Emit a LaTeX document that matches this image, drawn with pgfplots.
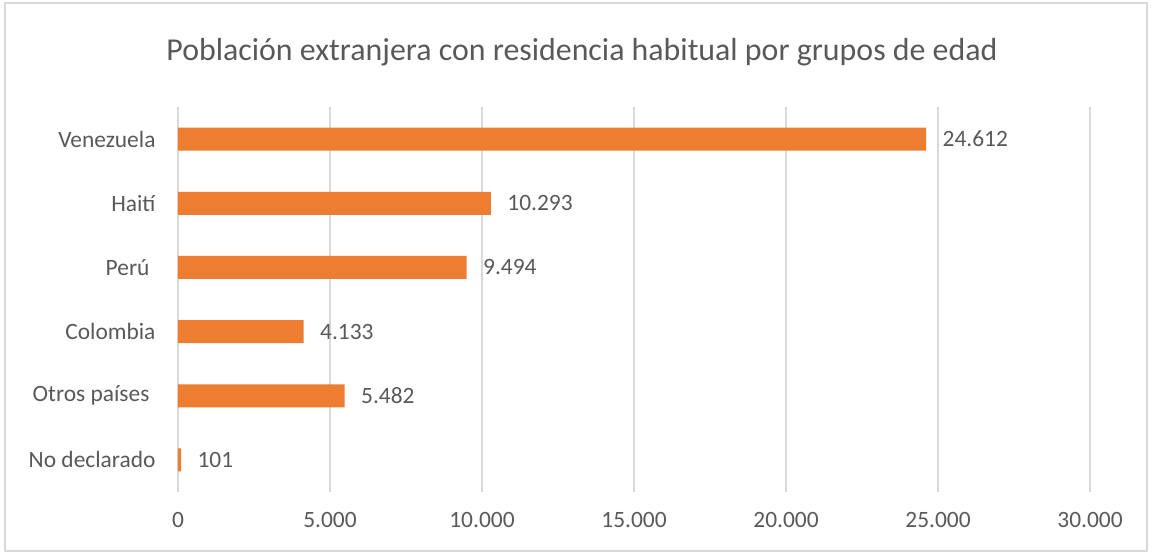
\documentclass[border=0pt]{standalone}
\usepackage{pgfplots}
\pgfplotsset{compat=1.18}
\usepackage{fontspec}
\setmainfont{Carlito}
\definecolor{barc}{HTML}{ED7D31}
\definecolor{txt}{HTML}{595959}
\definecolor{grd}{HTML}{D9D9D9}
\begin{document}
\begin{tikzpicture}
\path (-178bp,-62bp) rectangle (974bp,492bp);
\draw[grd, line width=1.2bp] (-173bp,-59bp) rectangle (969bp,489bp);
\begin{axis}[
  scale only axis,
  width=912bp, height=385bp,
  xbar, bar width=23bp,
  xmin=0, xmax=30000,
  ymin=-0.5, ymax=5.5,
  axis line style={draw=none},
  xtick={0,5000,...,30000},
  ytick={0,1,2,3,4,5},
  yticklabels={No declarado, {Otros países\rule{6bp}{0pt}}, Colombia, {Perú\rule{6bp}{0pt}}, Haití, Venezuela},
  major tick length=0pt,
  xmajorgrids, grid style={grd, line width=1.3bp},
  tick label style={font=\fontsize{23.5}{28}\selectfont, text=txt},
  yticklabel style={xshift=-19bp},
  xticklabel style={yshift=-17bp},
  /pgf/number format/.cd, 1000 sep={.}, fixed, precision=0, assume math mode=true,
  /pgfplots/.cd,
  scaled x ticks=false,
  nodes near coords,
  nodes near coords style={font=\fontsize{23.5}{28}\selectfont, text=txt, anchor=west, xshift=13bp,
    /pgf/number format/.cd, 1000 sep={.}, fixed, precision=0, assume math mode=true},
]
\addplot[fill=barc, draw=none] coordinates {
 (24612,5) (10293,4) (9494,3) (4133,2) (5482,1) (101,0)
};
\end{axis}
\node[text=txt, font=\fontsize{32}{38}\selectfont] at (404bp,440bp) {Población extranjera con residencia habitual por grupos de edad};
\end{tikzpicture}
\end{document}
